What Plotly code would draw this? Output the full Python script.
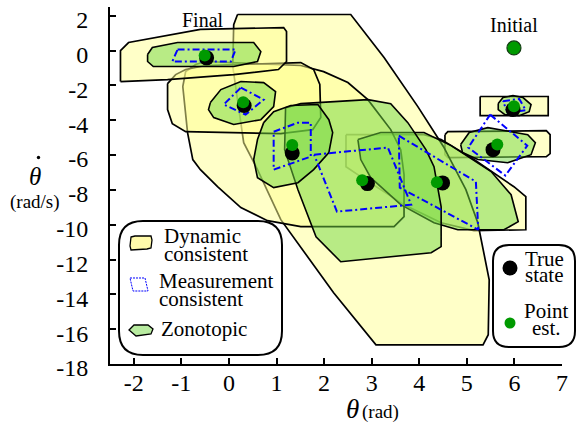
import plotly.graph_objects as go

# ---------------- data (theta in rad, theta-dot in rad/s) ----------------
theta_ticks = [-2, -1, 0, 1, 2, 3, 4, 5, 6, 7]
thetadot_ticks = [2, 0, -2, -4, -6, -8, -10, -12, -14, -16, -18]

# point estimates (initial ... final)
est_theta = [5.99, 5.99, 5.64, 4.37, 2.80, 1.33, 0.30, -0.51]
est_thetadot = [0.15, -3.20, -5.40, -7.57, -7.45, -5.42, -2.97, -0.29]
# true states (step 1 ... final)
true_theta = [5.97, 5.55, 4.49, 2.91, 1.33, 0.32, -0.47]
true_thetadot = [-3.39, -5.69, -7.60, -7.64, -5.88, -3.16, -0.42]

# dynamic consistent sets (vertices)
dyn1_theta = [5.28, 6.71, 6.71, 5.28]
dyn1_thetadot = [-2.64, -2.64, -3.74, -3.74]
dyn2_theta = [4.54, 4.60, 6.67, 6.75, 6.75, 6.67, 4.60, 4.54]
dyn2_thetadot = [-4.83, -4.66, -4.60, -4.83, -5.92, -6.09, -6.15, -5.98]
dyn3_theta = [2.46, 4.10, 4.46, 5.15, 5.99, 6.24, 6.24, 5.15, 4.46, 3.68, 2.77, 2.46]
dyn3_thetadot = [-4.83, -4.83, -5.11, -6.26, -7.82, -8.39, -10.29, -10.34, -9.89, -8.85, -7.24, -6.67]
dyn4_theta = [0.18, 2.56, 3.26, 3.97, 4.51, 4.98, 5.23, 5.47, 5.45, 5.34, 3.09, 2.20, 1.09, 0.60, 0.31, 0.08, 0.10]
dyn4_thetadot = [2.07, 2.07, -0.40, -3.22, -5.52, -7.99, -9.89, -13.16, -16.32, -16.90, -16.90, -13.91, -9.71, -6.84, -5.29, -0.92, 1.49]
dyn5_theta = [-0.49, 1.51, 1.99, 2.50, 2.92, 3.40, 3.61, 3.68, 3.68, 3.47, 1.51, 0.81, 0.25, -0.24, -0.60, -0.76, -0.87, -0.97, -0.91, -0.70]
dyn5_thetadot = [-0.63, -0.86, -1.21, -1.84, -2.82, -4.54, -5.69, -7.13, -9.54, -10.11, -10.11, -9.77, -9.02, -7.82, -6.84, -6.26, -4.71, -2.07, -1.21, -0.80]
dyn6_theta = [-1.29, -1.12, -0.91, -0.49, 1.51, 1.78, 1.91, 1.93, 1.76, 1.09, -0.91, -1.19, -1.29]
dyn6_thetadot = [-1.90, -1.38, -1.09, -0.86, -0.69, -1.09, -1.95, -3.85, -4.54, -4.77, -4.66, -4.20, -3.39]
dyn7_theta = [-2.28, -2.28, -2.11, -0.60, 1.15, 1.21, 1.21, 1.04, 0.10, -1.29]
dyn7_thetadot = [-1.78, 0.00, 0.46, 1.21, 1.32, 1.09, -0.63, -1.09, -1.38, -1.67]

# zonotopic sets
zon1_theta = [5.66, 5.76, 5.97, 6.18, 6.35, 6.31, 6.10, 5.80, 5.66]
zon1_thetadot = [-3.04, -2.70, -2.59, -2.70, -3.10, -3.51, -3.74, -3.68, -3.39]
zon2_theta = [4.87, 5.05, 5.44, 6.28, 6.44, 6.35, 5.86, 5.23, 4.91]
zon2_thetadot = [-5.40, -4.71, -4.43, -4.83, -5.29, -5.98, -6.44, -6.26, -5.86]
zon3_theta = [2.71, 3.19, 4.10, 4.67, 5.51, 5.93, 6.08, 5.78, 4.81, 4.31, 3.61, 2.98, 2.77]
zon3_thetadot = [-5.11, -4.71, -4.71, -5.46, -6.95, -8.28, -9.83, -10.29, -10.29, -9.89, -8.85, -7.30, -6.26]
zon4_theta = [1.19, 1.51, 2.92, 3.40, 3.76, 4.14, 4.31, 4.46, 4.46, 4.25, 2.35, 1.83, 1.45, 1.17]
zon4_thetadot = [-3.28, -3.05, -2.82, -3.05, -4.14, -5.69, -6.67, -8.97, -11.26, -11.61, -12.13, -10.69, -7.99, -5.69]
zon5_theta = [0.73, 0.94, 1.30, 1.87, 2.10, 2.18, 2.10, 1.78, 1.45, 0.94, 0.60, 0.52, 0.60]
zon5_thetadot = [-4.14, -3.51, -3.16, -3.10, -3.97, -4.71, -5.86, -6.84, -7.59, -7.87, -7.30, -6.26, -5.11]
zon6_theta = [-0.39, -0.17, 0.25, 0.73, 0.98, 0.94, 0.67, 0.10, -0.32, -0.43]
zon6_thetadot = [-2.99, -2.24, -1.78, -1.84, -2.36, -3.22, -3.97, -4.25, -3.85, -3.39]
zon7_theta = [-1.71, -1.61, -1.08, 0.52, 0.67, 0.60, 0.10, -1.59, -1.71]
zon7_thetadot = [-0.23, 0.17, 0.46, 0.46, -0.06, -0.63, -0.92, -0.92, -0.63]

# measurement consistent sets
mea1_theta = [5.76, 6.10, 6.24, 5.86]
mea1_thetadot = [-2.91, -2.78, -3.43, -3.58]
mea2_theta = [5.49, 6.27, 5.81, 5.03]
mea2_thetadot = [-3.68, -5.46, -7.18, -5.57]
mea3_theta = [3.57, 5.19, 5.24, 3.59]
mea3_thetadot = [-4.89, -7.53, -10.29, -7.87]
mea4_theta = [1.79, 3.34, 3.83, 2.27]
mea4_thetadot = [-5.98, -5.57, -8.85, -9.25]
mea5_theta = [0.94, 1.45, 1.72, 1.72, 0.94]
mea5_thetadot = [-4.66, -4.14, -4.14, -6.09, -6.84]
mea6_theta = [0.25, 0.73, 0.35, -0.11]
mea6_thetadot = [-2.13, -2.82, -3.68, -3.10]
mea7_theta = [-1.08, 0.14, 0.04, -1.19]
mea7_thetadot = [0.06, 0.06, -0.63, -0.63]

dynamic_sets = [(dyn1_theta, dyn1_thetadot), (dyn2_theta, dyn2_thetadot), (dyn3_theta, dyn3_thetadot),
                (dyn4_theta, dyn4_thetadot), (dyn5_theta, dyn5_thetadot), (dyn6_theta, dyn6_thetadot),
                (dyn7_theta, dyn7_thetadot)]
zonotopic_sets = [(zon1_theta, zon1_thetadot), (zon2_theta, zon2_thetadot), (zon3_theta, zon3_thetadot),
                  (zon4_theta, zon4_thetadot), (zon5_theta, zon5_thetadot), (zon6_theta, zon6_thetadot),
                  (zon7_theta, zon7_thetadot)]
measurement_sets = [(mea1_theta, mea1_thetadot), (mea2_theta, mea2_thetadot), (mea3_theta, mea3_thetadot),
                    (mea4_theta, mea4_thetadot), (mea5_theta, mea5_thetadot), (mea6_theta, mea6_thetadot),
                    (mea7_theta, mea7_thetadot)]

# ---------------- styling ----------------
FONT = "Liberation Serif"
YEL_FILL = "rgba(255,255,145,0.5)"
GRN_FILL = "rgba(113,215,65,0.5)"
BLUE = "#0000ff"
GREEN_PT = "#009a00"
DASHDOT = "7px,3px,2px,3px"


def closed(a):
    return list(a) + [a[0]]


fig = go.Figure()
for xs, ys in dynamic_sets:
    fig.add_trace(go.Scatter(x=closed(xs), y=closed(ys), mode="lines", fill="toself",
                             fillcolor=YEL_FILL, line=dict(color="black", width=1.7),
                             hoverinfo="skip", showlegend=False))
for xs, ys in zonotopic_sets:
    fig.add_trace(go.Scatter(x=closed(xs), y=closed(ys), mode="lines", fill="toself",
                             fillcolor=GRN_FILL, line=dict(color="black", width=1.6),
                             hoverinfo="skip", showlegend=False))
for xs, ys in measurement_sets:
    fig.add_trace(go.Scatter(x=closed(xs), y=closed(ys), mode="lines",
                             line=dict(color=BLUE, width=2, dash=DASHDOT),
                             hoverinfo="skip", showlegend=False))
fig.add_trace(go.Scatter(x=true_theta, y=true_thetadot, mode="markers",
                         marker=dict(color="black", size=15, line=dict(width=0)), showlegend=False))
fig.add_trace(go.Scatter(x=est_theta[1:], y=est_thetadot[1:], mode="markers",
                         marker=dict(color=GREEN_PT, size=12, line=dict(width=0)), showlegend=False))
fig.add_trace(go.Scatter(x=est_theta[:1], y=est_thetadot[:1], mode="markers",
                         marker=dict(color=GREEN_PT, size=14, line=dict(color="#133d13", width=1.2)),
                         showlegend=False))

# ---------------- layout ----------------
W, H = 577, 428
L, R, T, B = 110, 15, 7, 64
PW, PH = W - L - R, H - T - B


def px(x, y):
    return (x - L) / PW, (H - B - y) / PH


def rrect(x0, y0, x1, y1, r):
    pts = [("M", [(x0 + r, y0)]), ("L", [(x1 - r, y0)]), ("Q", [(x1, y0), (x1, y0 + r)]),
           ("L", [(x1, y1 - r)]), ("Q", [(x1, y1), (x1 - r, y1)]), ("L", [(x0 + r, y1)]),
           ("Q", [(x0, y1), (x0, y1 - r)]), ("L", [(x0, y0 + r)]), ("Q", [(x0, y0), (x0 + r, y0)])]
    s = ""
    for cmd, ps in pts:
        s += cmd + " " + " ".join("%.5f,%.5f" % px(a, b) for a, b in ps) + " "
    return s + "Z"


def poly(points):
    return "M " + " L ".join("%.5f,%.5f" % px(a, b) for a, b in points) + " Z"


def dot(x, y, r, color):
    cx, cy = px(x, y)
    return dict(type="circle", xref="paper", yref="paper", x0=cx - r / PW, x1=cx + r / PW,
                y0=cy - r / PH, y1=cy + r / PH, fillcolor=color, line=dict(width=0), layer="above")


shapes = [
    dict(type="path", path=rrect(119, 221, 282, 355, 24), xref="paper", yref="paper",
         fillcolor="white", line=dict(color="black", width=2), layer="above"),
    dict(type="path", path=rrect(493, 245, 575, 347, 16), xref="paper", yref="paper",
         fillcolor="white", line=dict(color="black", width=2), layer="above"),
    dict(type="path", path=poly([(131, 237), (135, 236), (151, 236), (152, 240), (151, 248), (147, 249), (131, 250), (130, 246)]),
         xref="paper", yref="paper", fillcolor="rgb(255,250,170)", line=dict(color="black", width=1.3), layer="above"),
    dict(type="path", path=poly([(130, 278), (145, 278), (148, 291), (133, 291)]),
         xref="paper", yref="paper", fillcolor="rgba(0,0,0,0)", line=dict(color=BLUE, width=1, dash="2px,1px"), layer="above"),
    dict(type="path", path=poly([(129, 330), (134, 325), (148, 325), (153, 329), (151, 334), (136, 336)]),
         xref="paper", yref="paper", fillcolor="rgb(184,235,160)", line=dict(color="black", width=1.3), layer="above"),
    dot(510, 268, 7.5, "black"),
    dot(510, 323, 5.5, GREEN_PT),
    dot(38.5, 157.5, 1.7, "black"),   # dot accent of theta-dot axis title
]

annotations = []


def text(t, x, y, size=21, xanchor="left", italic=False):
    xp, yp = px(x, y)
    annotations.append(dict(text=("<i>%s</i>" % t) if italic else t, x=xp, y=yp, xref="paper", yref="paper",
                            xanchor=xanchor, yanchor="middle", showarrow=False,
                            font=dict(family=FONT, size=size, color="black")))


text("Dynamic", 162, 236)
text("consistent", 162, 254)
text("Measurement", 157, 281)
text("consistent", 157, 299)
text("Zonotopic", 159, 329)
text("True", 544, 259, xanchor="center")
text("state", 544, 275, xanchor="center")
text("Point", 546, 311, xanchor="center")
text("est.", 546, 328, xanchor="center")
text("Final", 203, 20, size=20, xanchor="center")
text("Initial", 514, 25, size=20, xanchor="center")
text("\u03b8", 352, 409, size=27, xanchor="center", italic=True)
text("(rad)", 360, 412, size=19)
text("\u03b8", 35, 176, size=25, xanchor="center", italic=True)
text("(rad/s)", 35, 202, size=19, xanchor="center")

fig.update_layout(width=W, height=H, margin=dict(l=L, r=R, t=T, b=B, pad=0),
                  paper_bgcolor="white", plot_bgcolor="white", showlegend=False,
                  font=dict(family=FONT, size=24, color="black"),
                  shapes=shapes, annotations=annotations)
axis_common = dict(ticks="inside", ticklen=6, tickwidth=1.5, tickcolor="black", showline=True,
                   linecolor="black", linewidth=2, showgrid=False, zeroline=False,
                   tickfont=dict(family=FONT, size=24, color="black"))
fig.update_xaxes(range=[-2.5, 7], tickvals=theta_ticks, ticktext=[str(v) for v in theta_ticks],
                 ticklabelstandoff=-4, **axis_common)
fig.update_yaxes(range=[-18, 2.5], tickvals=thetadot_ticks, ticktext=[str(v) for v in thetadot_ticks],
                 ticklabelstandoff=15, ticklabelshift=4, **axis_common)

fig.write_html("out.html", config={"displayModeBar": False},
               post_script="document.body.style.margin='0';document.body.style.padding='0';")
